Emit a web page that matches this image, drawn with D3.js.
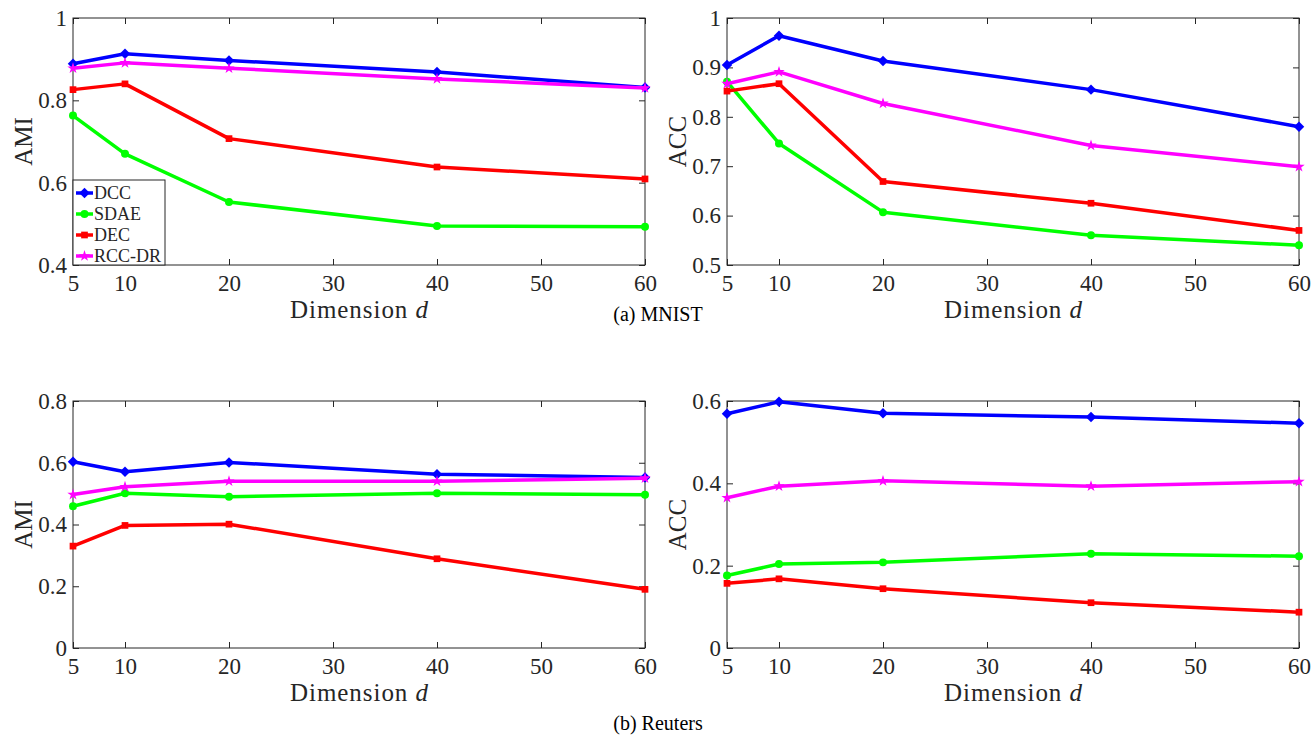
<!DOCTYPE html>
<html>
<head>
<meta charset="utf-8">
<script src="https://cdn.jsdelivr.net/npm/d3@7"></script>
<style>
  body { margin: 0; background: #fff; }
</style>
</head>
<body>
<svg id="fig" width="1312" height="737"></svg>
<script>
const FONT = "'Liberation Serif', 'Times New Roman', Times, serif";

// x values (dimension d)
const dims = [5, 10, 20, 40, 60];
const xTicks = [5, 10, 20, 30, 40, 50, 60];
const methods = ["DCC", "SDAE", "DEC", "RCC-DR"];

// MNIST
const mnistAmiDCC = [0.889, 0.913, 0.897, 0.869, 0.831];
const mnistAmiSDAE = [0.763, 0.670, 0.553, 0.495, 0.493];
const mnistAmiDEC = [0.826, 0.840, 0.707, 0.638, 0.609];
const mnistAmiRCC = [0.878, 0.891, 0.878, 0.852, 0.830];

const mnistAccDCC = [0.905, 0.964, 0.913, 0.855, 0.780];
const mnistAccSDAE = [0.871, 0.746, 0.607, 0.560, 0.540];
const mnistAccDEC = [0.852, 0.867, 0.669, 0.625, 0.570];
const mnistAccRCC = [0.867, 0.891, 0.827, 0.742, 0.699];

// Reuters
const reutAmiDCC = [0.603, 0.571, 0.601, 0.563, 0.552];
const reutAmiSDAE = [0.459, 0.501, 0.490, 0.501, 0.496];
const reutAmiDEC = [0.330, 0.397, 0.401, 0.289, 0.190];
const reutAmiRCC = [0.497, 0.522, 0.540, 0.540, 0.550];

const reutAccDCC = [0.569, 0.598, 0.570, 0.561, 0.546];
const reutAccSDAE = [0.176, 0.204, 0.208, 0.229, 0.223];
const reutAccDEC = [0.157, 0.168, 0.144, 0.110, 0.087];
const reutAccRCC = [0.365, 0.393, 0.406, 0.393, 0.404];

const colors = {"DCC": "#0000ff", "SDAE": "#00ff00", "DEC": "#ff0000", "RCC-DR": "#ff00ff"};
const symbols = {"DCC": d3.symbolDiamond2, "SDAE": d3.symbolCircle, "DEC": d3.symbolSquare, "RCC-DR": d3.symbolStar};
const symSize = {"DCC": 70, "SDAE": 50, "DEC": 45, "RCC-DR": 40};

const svg = d3.select("#fig");

function panel(opts) {
  const x = d3.scaleLinear().domain([5, 60]).range([opts.x0, opts.x1]);
  const y = d3.scaleLinear().domain(opts.yDomain).range([opts.y1, opts.y0]);
  const g = svg.append("g");

  // box with inward ticks on all sides
  g.append("rect")
    .attr("x", opts.x0).attr("y", opts.y0)
    .attr("width", opts.x1 - opts.x0).attr("height", opts.y1 - opts.y0)
    .attr("fill", "none").attr("stroke", "#262626").attr("stroke-width", 1);

  const fmt = d => d === 0 || d === 1 ? d3.format("d")(d) : d3.format(".1f")(d);

  const axB = g.append("g").attr("transform", `translate(0,${opts.y1})`)
    .call(d3.axisBottom(x).tickValues(xTicks).tickSize(-6).tickPadding(10));
  const axT = g.append("g").attr("transform", `translate(0,${opts.y0})`)
    .call(d3.axisTop(x).tickValues(xTicks).tickSize(-6).tickFormat(""));
  const axL = g.append("g").attr("transform", `translate(${opts.x0},0)`)
    .call(d3.axisLeft(y).tickValues(opts.yTicks).tickSize(-6).tickPadding(6).tickFormat(fmt));
  const axR = g.append("g").attr("transform", `translate(${opts.x1},0)`)
    .call(d3.axisRight(y).tickValues(opts.yTicks).tickSize(-6).tickFormat(""));
  [axB, axT, axL, axR].forEach(a => {
    a.attr("font-family", FONT).attr("font-size", 23);
    a.select(".domain").remove();
    a.selectAll("line").attr("stroke", "#262626");
    a.selectAll("text").attr("fill", "#262626");
  });

  // axis titles
  g.append("text")
    .attr("x", (opts.x0 + opts.x1) / 2).attr("y", opts.y1 + 53)
    .attr("text-anchor", "middle").attr("font-family", FONT).attr("font-size", 25)
    .attr("textLength", 138).attr("lengthAdjust", "spacing")
    .attr("fill", "#262626")
    .html('Dimension <tspan font-style="italic">d</tspan>');
  g.append("text")
    .attr("transform", `translate(${opts.x0 - 41},${(opts.y0 + opts.y1) / 2}) rotate(-90)`)
    .attr("text-anchor", "middle").attr("font-family", FONT).attr("font-size", 25)
    .attr("fill", "#262626")
    .text(opts.yLabel);

  const line = d3.line().x((d, i) => x(dims[i])).y(d => y(d));
  methods.forEach(m => {
    const vals = opts.series[m];
    g.append("path").datum(vals)
      .attr("d", line).attr("fill", "none")
      .attr("stroke", colors[m]).attr("stroke-width", 3.5)
      .attr("stroke-linejoin", "round");
    g.selectAll(null).data(vals).enter().append("path")
      .attr("transform", (d, i) => `translate(${x(dims[i])},${y(d)})`)
      .attr("d", d3.symbol().type(symbols[m]).size(symSize[m]))
      .attr("fill", colors[m]);
  });
  return {x, y, g};
}

const p1 = panel({x0: 73, x1: 645, y0: 18, y1: 265, yDomain: [0.4, 1], yTicks: [0.4, 0.6, 0.8, 1],
  yLabel: "AMI", series: {"DCC": mnistAmiDCC, "SDAE": mnistAmiSDAE, "DEC": mnistAmiDEC, "RCC-DR": mnistAmiRCC}});
panel({x0: 727, x1: 1299, y0: 18, y1: 265, yDomain: [0.5, 1], yTicks: [0.5, 0.6, 0.7, 0.8, 0.9, 1],
  yLabel: "ACC", series: {"DCC": mnistAccDCC, "SDAE": mnistAccSDAE, "DEC": mnistAccDEC, "RCC-DR": mnistAccRCC}});
panel({x0: 73, x1: 645, y0: 401, y1: 648, yDomain: [0, 0.8], yTicks: [0, 0.2, 0.4, 0.6, 0.8],
  yLabel: "AMI", series: {"DCC": reutAmiDCC, "SDAE": reutAmiSDAE, "DEC": reutAmiDEC, "RCC-DR": reutAmiRCC}});
panel({x0: 727, x1: 1299, y0: 401, y1: 648, yDomain: [0, 0.6], yTicks: [0, 0.2, 0.4, 0.6],
  yLabel: "ACC", series: {"DCC": reutAccDCC, "SDAE": reutAccSDAE, "DEC": reutAccDEC, "RCC-DR": reutAccRCC}});

// legend in first panel
const lg = p1.g.append("g");
lg.append("rect").attr("x", 73).attr("y", 180).attr("width", 92).attr("height", 85)
  .attr("fill", "#fff").attr("stroke", "#262626").attr("stroke-width", 1);
methods.forEach((m, i) => {
  const yy = 193 + i * 21;
  lg.append("line").attr("x1", 76).attr("x2", 93).attr("y1", yy).attr("y2", yy)
    .attr("stroke", colors[m]).attr("stroke-width", 3.5);
  lg.append("path").attr("transform", `translate(84.5,${yy})`)
    .attr("d", d3.symbol().type(symbols[m]).size(symSize[m])).attr("fill", colors[m]);
  lg.append("text").attr("x", 94).attr("y", yy + 6).attr("font-family", FONT)
    .attr("font-size", 18).attr("fill", "#262626").text(m);
});

// captions
svg.append("text").attr("x", 658).attr("y", 321).attr("text-anchor", "middle")
  .attr("font-family", FONT).attr("font-size", 20).attr("fill", "#000").text("(a) MNIST");
svg.append("text").attr("x", 658).attr("y", 730).attr("text-anchor", "middle")
  .attr("font-family", FONT).attr("font-size", 20).attr("fill", "#000").text("(b) Reuters");
</script>
</body>
</html>
